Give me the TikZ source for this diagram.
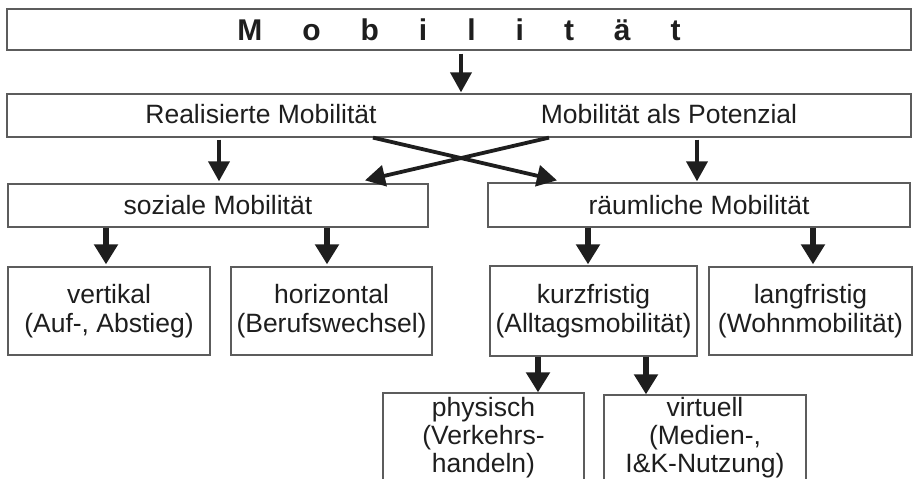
\documentclass[tikz,border=0pt]{standalone}
\usepackage{fontspec}
\setmainfont{Liberation Sans}
\usetikzlibrary{arrows.meta,calc}
\definecolor{boxgray}{HTML}{5C5C5C}
\definecolor{ink}{HTML}{1E1E1E}
\begin{document}
\begin{tikzpicture}[x=1pt,y=-1pt,
  box/.style={draw=boxgray, line width=1.3pt, inner sep=0pt, rectangle, text=ink, align=center, font=\fontsize{26.5}{29}\selectfont},
  txt/.style={inner sep=0pt, text=ink, align=center, font=\fontsize{26.5}{28}\selectfont},
  arrthin/.style={draw=ink, line width=3.8pt, -{Triangle[length=20pt,width=21pt]}},
  arrthick/.style={draw=ink, line width=5.5pt, -{Triangle[length=20pt,width=23pt]}},
]
\useasboundingbox (0,0) rectangle (914,479);
\clip (0,0) rectangle (914,479);

% boxes
\node[box, minimum width=904pt, minimum height=41pt, font=\fontsize{30}{34}\selectfont\bfseries] (top) at (459,29.5)
  {M\hspace{40pt}o\hspace{40pt}b\hspace{40pt}i\hspace{40pt}l\hspace{40pt}i\hspace{40pt}t\hspace{40pt}ä\hspace{40pt}t};
\node[box, minimum width=904pt, minimum height=43pt] (sec) at (459,115.5) {};
\node[txt] (real) at (261,114.5) {Realisierte Mobilität};
\node[txt] (pot) at (669,114.5) {Mobilität als Potenzial};

\node[box, minimum width=420pt, minimum height=43pt] (soz) at (218,205.5) {soziale Mobilität};
\node[box, minimum width=422pt, minimum height=44pt] (raum) at (699,205) {räumliche Mobilität};

\node[box, minimum width=202pt, minimum height=88pt] (vert) at (109,311) {vertikal\\(Auf-, Abstieg)};
\node[box, minimum width=201pt, minimum height=88pt] (hori) at (331.5,311) {horizontal\\(Berufswechsel)};
\node[box, minimum width=207pt, minimum height=90pt] (kurz) at (593.5,311) {kurzfristig\\(Alltagsmobilität)};
\node[box, minimum width=203pt, minimum height=88pt] (lang) at (810.5,311) {langfristig\\(Wohnmobilität)};

\node[box, minimum width=201pt, minimum height=117pt] (phys) at (483.5,451.5) {};
\node[txt] (physt) at (483.5,438) {physisch\\(Verkehrs-\\handeln)};
\node[box, minimum width=202pt, minimum height=115pt] (virt) at (705,452.5) {};
\node[txt] (virtt) at (705,438) {virtuell\\(Medien-,\\I\&K-Nutzung)};

% x positions of connectors
\coordinate (x461) at (461,0);
\coordinate (x219) at (219,0);
\coordinate (x697) at (697,0);
\coordinate (x373) at (373,0);
\coordinate (x557) at (557,0);
\coordinate (x549) at (549,0);
\coordinate (x365) at (365,0);
\coordinate (x106) at (106,0);
\coordinate (x327) at (327,0);
\coordinate (x588) at (588,0);
\coordinate (x813) at (813,0);
\coordinate (x538) at (538,0);
\coordinate (x646) at (646,0);

% connectors
\draw[arrthin, shorten <=3pt, shorten >=1pt] (top.south -| x461) -- (sec.north -| x461);
\draw[arrthin, shorten <=2pt, shorten >=2pt] (sec.south -| x219) -- (soz.north -| x219);
\draw[arrthin, shorten <=2pt, shorten >=1pt] (sec.south -| x697) -- (raum.north -| x697);
\draw[arrthin] (sec.south -| x373) -- ($(raum.north -| x557)+(0,-2)$);
\draw[arrthin] (sec.south -| x549) -- ($(soz.north -| x365)+(0,-3)$);

\draw[arrthick, shorten >=2pt] (soz.south -| x106) -- (vert.north -| x106);
\draw[arrthick, shorten >=2pt] (soz.south -| x327) -- (hori.north -| x327);
\draw[arrthick, shorten >=1pt] (raum.south -| x588) -- (kurz.north -| x588);
\draw[arrthick, shorten >=2pt] (raum.south -| x813) -- (lang.north -| x813);
\draw[arrthick] (kurz.south -| x538) -- (phys.north -| x538);
\draw[arrthick] (kurz.south -| x646) -- (virt.north -| x646);
\end{tikzpicture}
\end{document}
